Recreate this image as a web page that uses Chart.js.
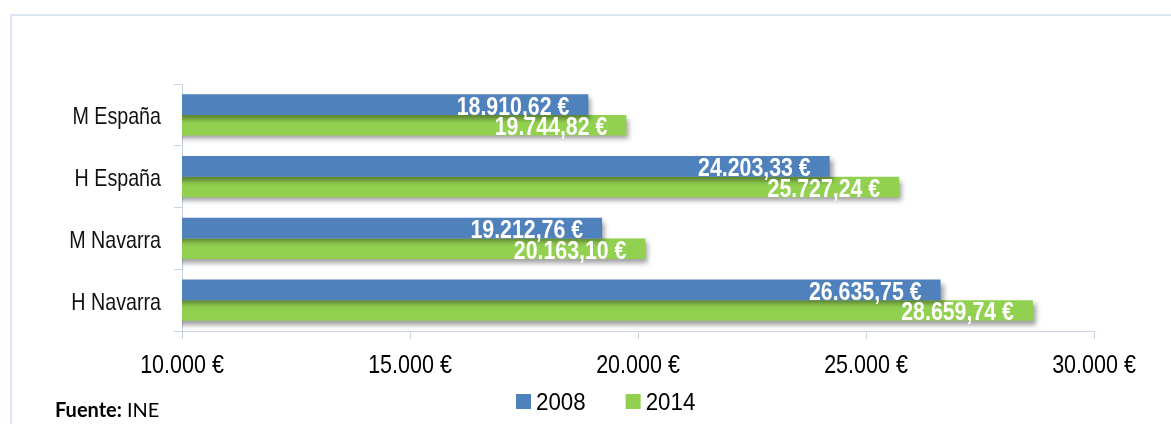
<!DOCTYPE html>
<html>
<head>
<meta charset="utf-8">
<script src="https://cdn.jsdelivr.net/npm/chart.js@4/dist/chart.umd.min.js"></script>
<style>
  html, body { margin: 0; padding: 0; background: #fff; }
  #wrap { position: relative; width: 1171px; height: 424px; }
  canvas { display: block; }
</style>
</head>
<body>
<div id="wrap"><canvas id="c" width="1171" height="424"></canvas></div>
<script>
const categories = ['M España', 'H España', 'M Navarra', 'H Navarra'];
const seriesNames = ['2008', '2014'];
const values2008 = [18910.62, 24203.33, 19212.76, 26635.75];
const values2014 = [19744.82, 25727.24, 20163.10, 28659.74];
const xTicks = [10000, 15000, 20000, 25000, 30000];
const sourceBold = 'Fuente:';
const sourceText = 'INE';

const BLUE = '#4f81bd';
const GREEN = '#92d050';
const AXIS = '#c9d4e3';
const SANS = '"Liberation Sans", Arial, sans-serif';
const NARROW_X = 0.82;

function fmtThousands(n) {
  return String(n).replace(/\B(?=(\d{3})+(?!\d))/g, '.');
}
function fmtEuro(v, dec) {
  const fixed = v.toFixed(dec);
  const parts = fixed.split('.');
  return fmtThousands(parts[0]) + (dec ? ',' + parts[1] : '') + ' €';
}
// draw text in a horizontally condensed style (like Arial Narrow)
function drawNarrow(ctx, text, x, y, align, font, color, sx) {
  ctx.save();
  ctx.font = font;
  ctx.fillStyle = color;
  ctx.textAlign = align;
  ctx.textBaseline = 'alphabetic';
  ctx.translate(x, y);
  ctx.scale(sx || NARROW_X, 1);
  ctx.fillText(text, 0, 0);
  const w = ctx.measureText(text).width * (sx || NARROW_X);
  ctx.restore();
  return w;
}

const decorPlugin = {
  id: 'decor',
  beforeDraw(chart) {
    const ctx = chart.ctx;
    ctx.save();
    ctx.fillStyle = '#fff';
    ctx.fillRect(0, 0, chart.width, chart.height);
    ctx.strokeStyle = '#dbe5f3';
    ctx.lineWidth = 2;
    ctx.beginPath();
    ctx.moveTo(11, chart.height + 2);
    ctx.lineTo(11, 15);
    ctx.lineTo(chart.width + 2, 15);
    ctx.stroke();
    ctx.restore();
  },
  beforeDatasetsDraw(chart) {
    const ctx = chart.ctx;
    ctx.save();
    ctx.shadowColor = 'rgba(0,0,0,0.38)';
    ctx.shadowBlur = 5;
    ctx.shadowOffsetX = 3;
    ctx.shadowOffsetY = 4;
  },
  afterDatasetsDraw(chart) {
    const ctx = chart.ctx;
    ctx.restore();
    // value labels
    chart.data.datasets.forEach((ds, di) => {
      const meta = chart.getDatasetMeta(di);
      meta.data.forEach((bar, i) => {
        drawNarrow(ctx, fmtEuro(ds.data[i], 2), bar.x - 19, bar.y + 10,
          'right', 'bold 26px ' + SANS, '#fff', 0.82);
      });
    });
  },
  afterDraw(chart) {
    const ctx = chart.ctx;
    // x tick labels
    const xs = chart.scales.x;
    xs.ticks.forEach((t) => {
      const px = xs.getPixelForValue(t.value);
      drawNarrow(ctx, fmtEuro(t.value, 0), px, 373, 'center', '25px ' + SANS, '#000', 0.86);
    });
    // y tick labels
    const ys = chart.scales.y;
    chart.data.labels.forEach((lab, i) => {
      const py = ys.getPixelForValue(i);
      drawNarrow(ctx, lab, 161, py + 9.5, 'right', '24px ' + SANS, '#111');
    });
    // legend
    let x = 516;
    chart.data.datasets.forEach((ds) => {
      ctx.fillStyle = ds.backgroundColor;
      ctx.fillRect(x, 394, 15, 15);
      const w = drawNarrow(ctx, ds.label, x + 20, 410, 'left', '24px ' + SANS, '#000', 0.93);
      x += 20 + w + 40;
    });
    // source
    ctx.save();
    ctx.font = 'bold 20px Lato, "Open Sans", sans-serif';
    ctx.fillStyle = '#000';
    ctx.textAlign = 'left';
    ctx.textBaseline = 'alphabetic';
    ctx.fillText(sourceBold, 55, 417);
    const w = ctx.measureText(sourceBold).width + 5;
    ctx.font = '20px Lato, "Open Sans", sans-serif';
    ctx.fillText(sourceText, 55 + w, 417);
    ctx.restore();
  }
};

new Chart(document.getElementById('c'), {
  type: 'bar',
  data: {
    labels: categories,
    datasets: [
      { label: seriesNames[0], data: values2008, backgroundColor: BLUE },
      { label: seriesNames[1], data: values2014, backgroundColor: GREEN }
    ]
  },
  options: {
    indexAxis: 'y',
    responsive: false,
    animation: false,
    events: [],
    layout: { padding: { top: 84, right: 77, bottom: 0, left: 0 } },
    datasets: { bar: { categoryPercentage: 0.667, barPercentage: 1.0 } },
    plugins: { legend: { display: false }, tooltip: { enabled: false } },
    scales: {
      x: {
        min: 10000, max: 30000,
        afterBuildTicks(scale) { scale.ticks = xTicks.map(v => ({ value: v })); },
        afterFit(scale) { scale.height = 93; },
        grid: { drawOnChartArea: false, drawTicks: true, tickLength: 8, color: AXIS, lineWidth: 1 },
        border: { color: AXIS, width: 1 },
        ticks: { display: false }
      },
      y: {
        afterFit(scale) { scale.width = 182; },
        grid: { drawOnChartArea: false, drawTicks: true, tickLength: 8, color: AXIS, offset: true },
        border: { color: AXIS, width: 1 },
        ticks: { display: false }
      }
    }
  },
  plugins: [decorPlugin]
});
</script>
</body>
</html>
